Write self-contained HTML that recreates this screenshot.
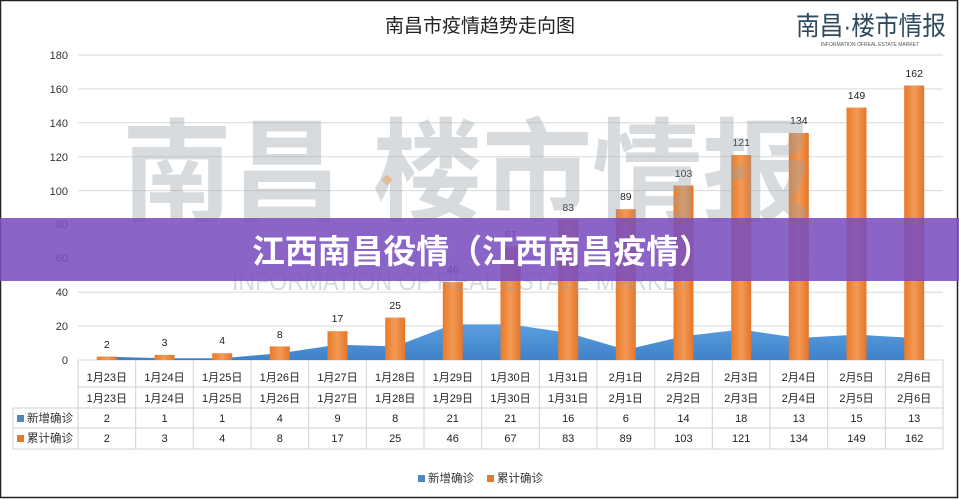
<!DOCTYPE html>
<html><head><meta charset="utf-8"><style>
html,body{margin:0;padding:0;background:#fff}
svg{display:block}
text{font-family:"Liberation Sans","Noto Sans CJK SC",sans-serif}
</style></head><body>
<svg width="959" height="499" viewBox="0 0 959 499" xmlns="http://www.w3.org/2000/svg">
<defs>
<linearGradient id="ag" x1="0" y1="0" x2="0" y2="1"><stop offset="0" stop-color="#5a9ee0"/><stop offset="1" stop-color="#3f82c8"/></linearGradient>
<linearGradient id="bg" x1="0" y1="0" x2="1" y2="0"><stop offset="0" stop-color="#e97a2a"/><stop offset="0.5" stop-color="#f39a55"/><stop offset="1" stop-color="#e4752a"/></linearGradient>
</defs>
<rect x="0" y="0" width="959" height="499" fill="#fff"/>
<rect x="0.5" y="0.5" width="957" height="497" fill="none" stroke="#222" stroke-width="1.5"/>
<text x="480" y="32" font-size="19" text-anchor="middle" fill="#222">南昌市疫情趋势走向图</text>
<text x="796" y="35" font-size="26" fill="#2d4a5f" textLength="150" lengthAdjust="spacingAndGlyphs">南昌·楼市情报</text>
<text x="870" y="46" font-size="5" text-anchor="middle" fill="#555">INFORMATION OFREAL ESTATE MARKET</text>
<g stroke="#d9d9d9" stroke-width="1">
<line x1="78" y1="55" x2="943" y2="55"/><line x1="78" y1="88.9" x2="943" y2="88.9"/><line x1="78" y1="122.8" x2="943" y2="122.8"/><line x1="78" y1="156.7" x2="943" y2="156.7"/><line x1="78" y1="190.6" x2="943" y2="190.6"/><line x1="78" y1="224.4" x2="943" y2="224.4"/><line x1="78" y1="258.3" x2="943" y2="258.3"/><line x1="78" y1="292.2" x2="943" y2="292.2"/><line x1="78" y1="326.1" x2="943" y2="326.1"/><line x1="78" y1="360" x2="943" y2="360"/>
</g>
<g font-size="11" fill="#333" text-anchor="end">
<text x="68" y="59">180</text><text x="68" y="93">160</text><text x="68" y="127">140</text><text x="68" y="161">120</text><text x="68" y="195">100</text><text x="68" y="228">80</text><text x="68" y="262">60</text><text x="68" y="296">40</text><text x="68" y="330">20</text><text x="68" y="364">0</text>
</g>
<polygon fill="url(#ag)" points="106.8,360 106.8,356.6 164.5,358.3 222.2,358.3 279.8,353.2 337.5,344.8 395.2,346.4 452.8,324.4 510.5,324.4 568.2,332.9 625.8,349.8 683.5,336.3 741.2,329.5 798.8,338 856.5,334.6 914.2,338 914.2,360"/>
<g fill="url(#bg)">
<rect x="96.8" y="356.6" width="20" height="3.4"/><rect x="154.5" y="354.9" width="20" height="5.1"/><rect x="212.2" y="353.2" width="20" height="6.8"/><rect x="269.8" y="346.4" width="20" height="13.6"/><rect x="327.5" y="331.2" width="20" height="28.8"/><rect x="385.2" y="317.6" width="20" height="42.4"/><rect x="442.8" y="282.1" width="20" height="77.9"/><rect x="500.5" y="246.5" width="20" height="113.5"/><rect x="558.2" y="219.4" width="20" height="140.6"/><rect x="615.8" y="209.2" width="20" height="150.8"/><rect x="673.5" y="185.5" width="20" height="174.5"/><rect x="731.2" y="155" width="20" height="205"/><rect x="788.8" y="133" width="20" height="227"/><rect x="846.5" y="107.6" width="20" height="252.4"/><rect x="904.2" y="85.5" width="20" height="274.5"/>
</g>
<g font-size="10.5" fill="#222" text-anchor="middle">
<text x="106.8" y="348">2</text><text x="164.5" y="346">3</text><text x="222.2" y="344">4</text><text x="279.8" y="338">8</text><text x="337.5" y="322">17</text><text x="395.2" y="309">25</text><text x="452.8" y="273">46</text><text x="510.5" y="238">67</text><text x="568.2" y="211">83</text><text x="625.8" y="200">89</text><text x="683.5" y="177">103</text><text x="741.2" y="146">121</text><text x="798.8" y="124">134</text><text x="856.5" y="99">149</text><text x="914.2" y="77">162</text>
</g>
<g fill="#9aa3a8" opacity="0.38">
<text x="122" y="212" font-size="112" font-weight="bold" textLength="690" lengthAdjust="spacingAndGlyphs">南昌 楼市情报</text>
<text x="232" y="290" font-size="26" textLength="460" lengthAdjust="spacingAndGlyphs">INFORMATION OF REAL ESTATE MARKET</text>
</g>
<rect x="383" y="176" width="8" height="8" fill="#e8b07a" opacity="0.7" transform="rotate(45 387 180)"/>
<rect x="0" y="218" width="959" height="63" fill="#7a4fbf" opacity="0.88"/>
<text x="252" y="263" font-size="33" font-weight="bold" fill="#fff" textLength="460" lengthAdjust="spacingAndGlyphs">江西南昌役情（江西南昌疫情）</text>
<g font-size="11" fill="#222" text-anchor="middle">
<text x="106.8" y="381">1月23日</text><text x="164.5" y="381">1月24日</text><text x="222.2" y="381">1月25日</text><text x="279.8" y="381">1月26日</text><text x="337.5" y="381">1月27日</text><text x="395.2" y="381">1月28日</text><text x="452.8" y="381">1月29日</text><text x="510.5" y="381">1月30日</text><text x="568.2" y="381">1月31日</text><text x="625.8" y="381">2月1日</text><text x="683.5" y="381">2月2日</text><text x="741.2" y="381">2月3日</text><text x="798.8" y="381">2月4日</text><text x="856.5" y="381">2月5日</text><text x="914.2" y="381">2月6日</text>
</g>
<g stroke="#d0d0d0" stroke-width="1" fill="none">
<line x1="78" y1="387" x2="943" y2="387"/><line x1="13" y1="408" x2="943" y2="408"/><line x1="13" y1="428" x2="943" y2="428"/><line x1="13" y1="449" x2="943" y2="449"/>
<line x1="13" y1="408" x2="13" y2="449"/>
<line x1="78" y1="360" x2="78" y2="449"/><line x1="135.7" y1="360" x2="135.7" y2="449"/><line x1="193.3" y1="360" x2="193.3" y2="449"/><line x1="251" y1="360" x2="251" y2="449"/><line x1="308.7" y1="360" x2="308.7" y2="449"/><line x1="366.3" y1="360" x2="366.3" y2="449"/><line x1="424" y1="360" x2="424" y2="449"/><line x1="481.7" y1="360" x2="481.7" y2="449"/><line x1="539.3" y1="360" x2="539.3" y2="449"/><line x1="597" y1="360" x2="597" y2="449"/><line x1="654.7" y1="360" x2="654.7" y2="449"/><line x1="712.3" y1="360" x2="712.3" y2="449"/><line x1="770" y1="360" x2="770" y2="449"/><line x1="827.7" y1="360" x2="827.7" y2="449"/><line x1="885.3" y1="360" x2="885.3" y2="449"/><line x1="943" y1="360" x2="943" y2="449"/>
</g>
<g font-size="11" fill="#222" text-anchor="middle">
<text x="106.8" y="402">1月23日</text><text x="164.5" y="402">1月24日</text><text x="222.2" y="402">1月25日</text><text x="279.8" y="402">1月26日</text><text x="337.5" y="402">1月27日</text><text x="395.2" y="402">1月28日</text><text x="452.8" y="402">1月29日</text><text x="510.5" y="402">1月30日</text><text x="568.2" y="402">1月31日</text><text x="625.8" y="402">2月1日</text><text x="683.5" y="402">2月2日</text><text x="741.2" y="402">2月3日</text><text x="798.8" y="402">2月4日</text><text x="856.5" y="402">2月5日</text><text x="914.2" y="402">2月6日</text>
<text x="106.8" y="422">2</text><text x="164.5" y="422">1</text><text x="222.2" y="422">1</text><text x="279.8" y="422">4</text><text x="337.5" y="422">9</text><text x="395.2" y="422">8</text><text x="452.8" y="422">21</text><text x="510.5" y="422">21</text><text x="568.2" y="422">16</text><text x="625.8" y="422">6</text><text x="683.5" y="422">14</text><text x="741.2" y="422">18</text><text x="798.8" y="422">13</text><text x="856.5" y="422">15</text><text x="914.2" y="422">13</text>
<text x="106.8" y="442">2</text><text x="164.5" y="442">3</text><text x="222.2" y="442">4</text><text x="279.8" y="442">8</text><text x="337.5" y="442">17</text><text x="395.2" y="442">25</text><text x="452.8" y="442">46</text><text x="510.5" y="442">67</text><text x="568.2" y="442">83</text><text x="625.8" y="442">89</text><text x="683.5" y="442">103</text><text x="741.2" y="442">121</text><text x="798.8" y="442">134</text><text x="856.5" y="442">149</text><text x="914.2" y="442">162</text>
</g>
<rect x="17" y="415" width="7" height="7" fill="#4f86c0"/>
<text x="27" y="422" font-size="11.5" fill="#333">新增确诊</text>
<rect x="17" y="435" width="7" height="7" fill="#e07b30"/>
<text x="27" y="442" font-size="11.5" fill="#333">累计确诊</text>
<rect x="418" y="475" width="7" height="7" fill="#4f86c0"/>
<text x="428" y="482" font-size="11.5" fill="#333">新增确诊</text>
<rect x="487" y="475" width="7" height="7" fill="#e07b30"/>
<text x="497" y="482" font-size="11.5" fill="#333">累计确诊</text>
</svg>
</body></html>
